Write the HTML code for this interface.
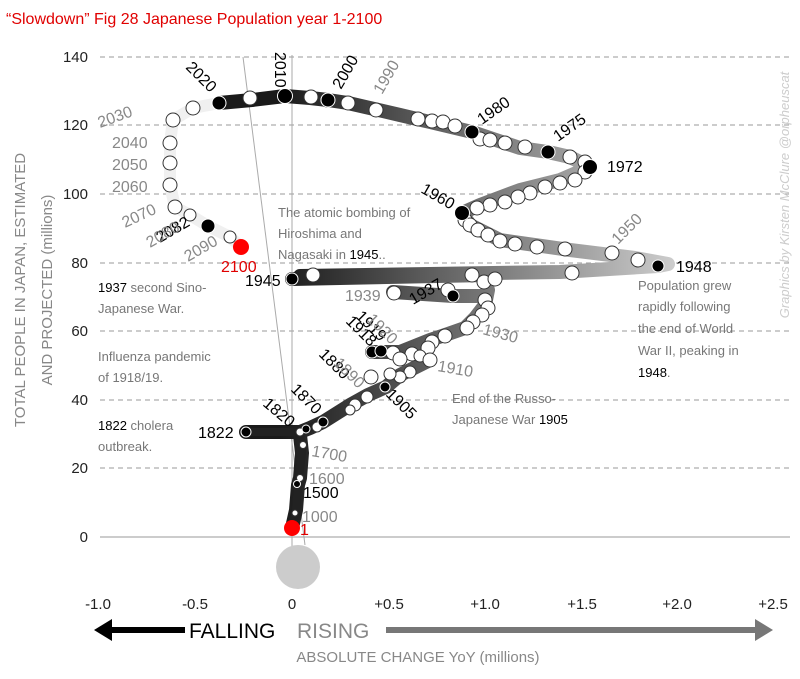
<!DOCTYPE html>
<html><head><meta charset="utf-8"><style>
body{margin:0;background:#fff}
svg text{font-family:"Liberation Sans",sans-serif}
</style></head><body>
<svg width="800" height="674" viewBox="0 0 800 674" xmlns="http://www.w3.org/2000/svg">
<defs>
<linearGradient id="g" gradientUnits="userSpaceOnUse" x1="280" y1="0" x2="700" y2="0">
<stop offset="0" stop-color="#1a1a1a"/><stop offset="1" stop-color="#d8d8d8"/>
</linearGradient>
</defs>
<text x="6" y="24" font-size="16" fill="#e00000">“Slowdown” Fig 28 Japanese Population year 1-2100</text>
<g stroke="#999" stroke-dasharray="5,4" stroke-width="1">
<line x1="100" y1="57" x2="790" y2="57"/><line x1="100" y1="125" x2="790" y2="125"/>
<line x1="100" y1="194" x2="790" y2="194"/><line x1="100" y1="263" x2="790" y2="263"/>
<line x1="100" y1="331" x2="790" y2="331"/><line x1="100" y1="400" x2="790" y2="400"/>
<line x1="100" y1="468" x2="790" y2="468"/>
</g>
<line x1="100" y1="537" x2="790" y2="537" stroke="#999"/>
<g font-size="15" fill="#222" text-anchor="end">
<text x="88" y="62">140</text><text x="88" y="130">120</text><text x="88" y="199">100</text>
<text x="88" y="268">80</text><text x="88" y="336">60</text><text x="88" y="405">40</text>
<text x="88" y="473">20</text><text x="88" y="542">0</text>
</g>
<g font-size="15" fill="#222" text-anchor="middle">
<text x="98" y="609">-1.0</text><text x="195" y="609">-0.5</text><text x="292" y="609">0</text>
<text x="389" y="609">+0.5</text><text x="485" y="609">+1.0</text><text x="582" y="609">+1.5</text>
<text x="677" y="609">+2.0</text><text x="773" y="609">+2.5</text>
</g>
<line x1="292" y1="55" x2="292" y2="560" stroke="#aaa" stroke-width="1"/>
<line x1="243" y1="57" x2="305" y2="545" stroke="#aaa" stroke-width="1"/>
<circle cx="298" cy="567" r="22" fill="#ccc"/>
<path d="M219,103 L193,108 L173,120 L170,143 L170,163 L170,185 L175,207 L190,215 L208,226 L230,237 L241,247" fill="none" stroke="#f0f0f0" stroke-width="12" stroke-linejoin="round" stroke-linecap="round"/>
<path d="M292,528 L296,510 L298,485 L300,478 L302,453 L300,435 L300,432 L246,432 M300,432 L310,428 L323,422 L350,405 L368,395 L386,387 L400,375 L420,365 L430,360 L420,352 L400,352 L372,352 M400,352 L430,340 L445,335 L465,328 L475,318 L485,305 L488,290 L486,283 M486,296 L453,296 L393,292 M488,275 L292,279 M300,276 L560,272 L658,266 L668,264 L635,258 L570,250 L500,240 L470,225 L462,213 L480,205 L520,190 L560,180 L590,167 L570,157 L548,152 L520,148 L472,132 L430,122 L400,115 L348,103 L328,100 L310,98 L285,96 L252,100 L219,103" fill="none" stroke="url(#g)" stroke-width="14" stroke-linejoin="round" stroke-linecap="round"/>
<path d="M292,528 L296,510 L298,485 L302,453 L300,432 L246,432 M300,432 L323,422" fill="none" stroke="#222" stroke-width="8" stroke-linejoin="round"/>
<g fill="#fff" stroke="#333" stroke-width="1">
<circle cx="193" cy="108" r="7"/><circle cx="173" cy="120" r="7"/><circle cx="170" cy="143" r="7"/>
<circle cx="170" cy="163" r="7"/><circle cx="170" cy="185" r="7"/><circle cx="175" cy="207" r="7"/>
<circle cx="190" cy="215" r="6"/><circle cx="230" cy="237" r="6"/>
<circle cx="250" cy="98" r="7"/><circle cx="311" cy="97" r="7"/><circle cx="327" cy="100" r="7"/>
<circle cx="348" cy="103" r="7"/><circle cx="376" cy="110" r="7"/><circle cx="418" cy="119" r="7"/>
<circle cx="432" cy="121" r="7"/><circle cx="443" cy="122" r="7"/><circle cx="455" cy="126" r="7"/>
<circle cx="480" cy="139" r="7"/><circle cx="490" cy="140" r="7"/><circle cx="505" cy="143" r="7"/>
<circle cx="525" cy="147" r="7"/><circle cx="570" cy="157" r="7"/><circle cx="585" cy="162" r="7"/>
<circle cx="585" cy="172" r="7"/><circle cx="575" cy="180" r="7"/><circle cx="560" cy="183" r="7"/>
<circle cx="545" cy="187" r="7"/><circle cx="530" cy="193" r="7"/><circle cx="518" cy="197" r="7"/>
<circle cx="505" cy="202" r="7"/><circle cx="490" cy="205" r="7"/><circle cx="477" cy="208" r="7"/>
<circle cx="465" cy="220" r="7"/><circle cx="470" cy="225" r="7"/><circle cx="478" cy="230" r="7"/>
<circle cx="488" cy="235" r="7"/><circle cx="500" cy="241" r="7"/><circle cx="515" cy="244" r="7"/>
<circle cx="537" cy="247" r="7"/><circle cx="565" cy="249" r="7"/><circle cx="612" cy="253" r="7"/>
<circle cx="638" cy="260" r="7"/><circle cx="313" cy="275" r="7"/><circle cx="472" cy="275" r="7"/>
<circle cx="484" cy="282" r="7"/><circle cx="495" cy="279" r="7"/><circle cx="572" cy="273" r="7"/>
<circle cx="394" cy="293" r="7"/><circle cx="448" cy="290" r="7"/><circle cx="485" cy="300" r="7"/>
<circle cx="488" cy="308" r="7"/><circle cx="482" cy="315" r="7"/><circle cx="473" cy="322" r="7"/>
<circle cx="467" cy="328" r="7"/><circle cx="445" cy="336" r="7"/><circle cx="432" cy="342" r="7"/>
<circle cx="428" cy="348" r="7"/><circle cx="412" cy="354" r="7"/><circle cx="393" cy="353" r="7"/>
<circle cx="400" cy="359" r="7"/><circle cx="420" cy="356" r="6"/><circle cx="430" cy="360" r="7"/>
<circle cx="410" cy="372" r="6"/><circle cx="400" cy="377" r="6"/><circle cx="371" cy="377" r="7"/>
<circle cx="390" cy="374" r="6"/><circle cx="367" cy="397" r="6"/><circle cx="355" cy="405" r="6"/>
<circle cx="350" cy="410" r="5"/><circle cx="317" cy="427" r="5"/><circle cx="300" cy="432" r="4"/>
<circle cx="303" cy="445" r="3.5"/><circle cx="300" cy="478" r="3.5"/><circle cx="295" cy="513" r="3"/>
</g>
<g fill="#000" stroke="#fff" stroke-width="1">
<circle cx="208" cy="226" r="7"/><circle cx="219" cy="103" r="7"/><circle cx="285" cy="96" r="7.5"/>
<circle cx="328" cy="100" r="7"/><circle cx="472" cy="132" r="7"/><circle cx="548" cy="152" r="7"/>
<circle cx="590" cy="167" r="7.5"/><circle cx="462" cy="213" r="7.5"/><circle cx="658" cy="266" r="6"/>
<circle cx="292" cy="279" r="6"/><circle cx="453" cy="296" r="6"/><circle cx="372" cy="352" r="6"/>
<circle cx="381" cy="351" r="6"/><circle cx="385" cy="387" r="5"/><circle cx="323" cy="422" r="5"/>
<circle cx="306" cy="429" r="4"/><circle cx="246" cy="432" r="5"/><circle cx="297" cy="484" r="3.5"/>
</g>
<circle cx="241" cy="247" r="8" fill="#f00"/>
<circle cx="292" cy="528" r="8" fill="#f00"/>
<g font-size="16" fill="#000">
<text transform="translate(185,68) rotate(45)">2020</text>
<text transform="translate(275,52) rotate(90)">2010</text>
<text transform="translate(341,90) rotate(-60)">2000</text>
<text transform="translate(482,125) rotate(-35)">1980</text>
<text transform="translate(558,142) rotate(-35)">1975</text>
<text x="607" y="172">1972</text>
<text transform="translate(420,192) rotate(30)">1960</text>
<text x="676" y="272">1948</text>
<text x="245" y="286">1945</text>
<text transform="translate(413,305) rotate(-30)">1937</text>
<text transform="translate(345,322) rotate(45)">1918</text>
<text transform="translate(355,317) rotate(45)">1919</text>
<text transform="translate(318,355) rotate(45)">1880</text>
<text transform="translate(290,390) rotate(45)">1870</text>
<text transform="translate(262,405) rotate(40)">1820</text>
<text transform="translate(385,395) rotate(45)">1905</text>
<text x="198" y="438">1822</text>
<text x="303" y="498">1500</text>
<text transform="translate(160,243) rotate(-30)">2082</text>
</g>
<g font-size="16" fill="#888">
<text transform="translate(382,95) rotate(-60)">1990</text>
<text transform="translate(100,128) rotate(-20)">2030</text>
<text x="112" y="148">2040</text><text x="112" y="170">2050</text><text x="112" y="192">2060</text>
<text transform="translate(125,228) rotate(-25)">2070</text>
<text transform="translate(150,248) rotate(-30)">2080</text>
<text transform="translate(188,262) rotate(-30)">2090</text>
<text transform="translate(618,245) rotate(-45)">1950</text>
<text x="345" y="301">1939</text>
<text transform="translate(366,320) rotate(45)">1920</text>
<text transform="translate(482,334) rotate(15)">1930</text>
<text transform="translate(333,364) rotate(45)">1890</text>
<text transform="translate(437,371) rotate(10)">1910</text>
<text transform="translate(311,456) rotate(10)">1700</text>
<text x="309" y="484">1600</text>
<text x="302" y="522">1000</text>
</g>
<text x="221" y="272" font-size="16" fill="#e00000">2100</text>
<text x="300" y="535" font-size="16" fill="#e00000">1</text>
<g font-size="13" fill="#777">
<text x="278" y="217">The atomic bombing of</text>
<text x="278" y="238">Hiroshima and</text>
<text x="278" y="259">Nagasaki in <tspan fill="#000">1945</tspan>..</text>
<text x="98" y="292"><tspan fill="#000">1937</tspan> second Sino-</text>
<text x="98" y="313">Japanese War.</text>
<text x="98" y="361">Influenza pandemic</text>
<text x="98" y="382">of 1918/19.</text>
<text x="98" y="430"><tspan fill="#000">1822</tspan> cholera</text>
<text x="98" y="451">outbreak.</text>
<text x="452" y="403">End of the Russo-</text>
<text x="452" y="424">Japanese War <tspan fill="#000">1905</tspan></text>
<text x="638" y="290">Population grew</text>
<text x="638" y="311">rapidly following</text>
<text x="638" y="333">the end of World</text>
<text x="638" y="355">War II, peaking in</text>
<text x="638" y="377"><tspan fill="#000">1948</tspan>.</text>
</g>
<text transform="translate(25,290) rotate(-90)" font-size="15" fill="#888" text-anchor="middle">TOTAL PEOPLE IN JAPAN, ESTIMATED</text>
<text transform="translate(52,290) rotate(-90)" font-size="15" fill="#888" text-anchor="middle">AND PROJECTED (millions)</text>
<text transform="translate(789,195) rotate(-90)" font-size="13" fill="#ccc" text-anchor="middle" font-style="italic">Graphics by Kirsten McClure @orpheuscat</text>
<line x1="108" y1="630" x2="185" y2="630" stroke="#000" stroke-width="6"/>
<polygon points="94,630 112,619 112,641" fill="#000"/>
<text x="189" y="638" font-size="21" fill="#000">FALLING</text>
<text x="297" y="638" font-size="21" fill="#888">RISING</text>
<line x1="386" y1="630" x2="758" y2="630" stroke="#777" stroke-width="6"/>
<polygon points="773,630 755,619 755,641" fill="#777"/>
<text x="418" y="662" font-size="15" fill="#888" text-anchor="middle">ABSOLUTE CHANGE YoY (millions)</text>
</svg>
</body></html>
